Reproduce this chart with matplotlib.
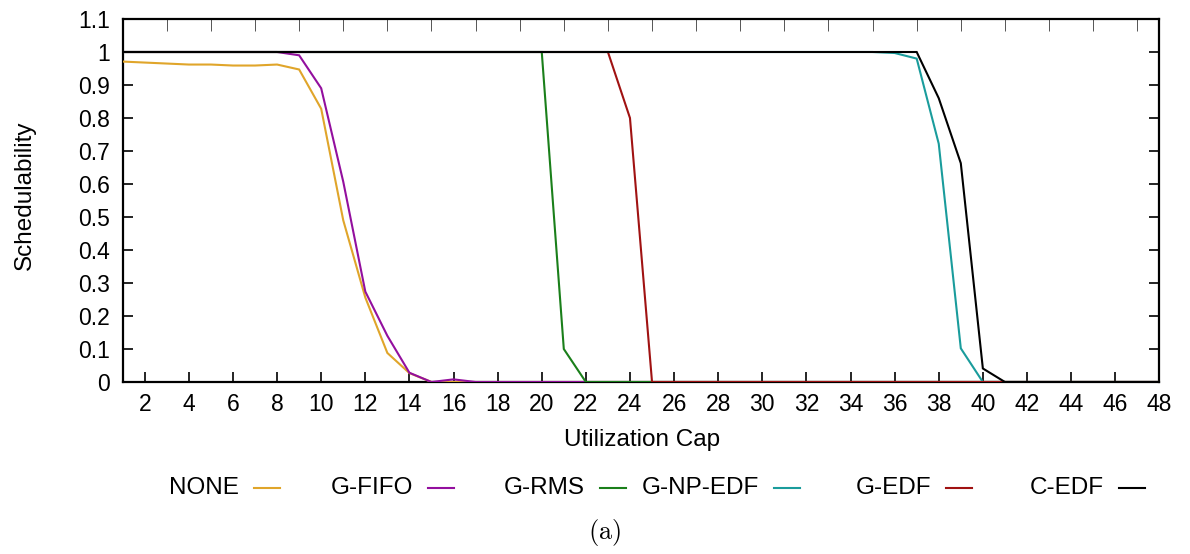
import numpy as np
import matplotlib
matplotlib.use("Agg")
import matplotlib.pyplot as plt
from matplotlib.lines import Line2D

plt.rcParams['font.family'] = ['Liberation Sans', 'DejaVu Sans']
plt.rcParams['mathtext.fontset'] = 'cm'

# Utilization cap values (x axis)
caps = np.arange(1, 49)

# Schedulability per scheduler (values listed from cap 1 upward; remaining caps are 0)
none_vals = [0.971, 0.968, 0.965, 0.962, 0.962, 0.959, 0.959, 0.962, 0.947,
             0.828, 0.49, 0.256, 0.088, 0.027, 0.0]
gfifo_vals = [1, 1, 1, 1, 1, 1, 1, 1, 0.99, 0.89, 0.607, 0.274, 0.14, 0.028,
              0.0, 0.008, 0.0]
grms_vals = [1] * 20 + [0.1, 0.0]
gnpedf_vals = [1] * 35 + [0.997, 0.98, 0.722, 0.102, 0.0]
gedf_vals = [1] * 23 + [0.8, 0.0]
cedf_vals = [1] * 37 + [0.86, 0.663, 0.041, 0.0]

series_names = ["NONE", "G-FIFO", "G-RMS", "G-NP-EDF", "G-EDF", "C-EDF"]
series_vals = [none_vals, gfifo_vals, grms_vals, gnpedf_vals, gedf_vals, cedf_vals]
series_colors = ["#e0a52a", "#930f9e", "#1a7f1a", "#1a9c9c", "#a01212", "#000000"]

x_ticks = list(range(2, 49, 2))
y_ticks = [0, 0.1, 0.2, 0.3, 0.4, 0.5, 0.6, 0.7, 0.8, 0.9, 1, 1.1]
y_tick_labels = ["0", "0.1", "0.2", "0.3", "0.4", "0.5", "0.6", "0.7", "0.8", "0.9", "1", "1.1"]


def pad(vals):
    v = list(vals) + [0.0] * (len(caps) - len(vals))
    return np.array(v)


W, H = 1190, 554
fig = plt.figure(figsize=(W / 100, H / 100), dpi=100)
ax = fig.add_axes([122.7 / W, 1 - 382 / H, (1159.3 - 122.7) / W, (382 - 19) / H])

for name, vals, col in zip(series_names, series_vals, series_colors):
    ax.plot(caps, pad(vals), color=col, lw=1.5, solid_joinstyle='miter', zorder=3)

ax.set_xlim(1, 48)
ax.set_ylim(0, 1.1)
ax.set_xticks(x_ticks)
ax.set_xticklabels([str(t) for t in x_ticks])
ax.set_yticks(y_ticks)
ax.set_yticklabels(y_tick_labels)

ax.tick_params(axis='both', direction='in', length=7.5, width=1.2, labelsize=16.5,
               colors='black')
ax.tick_params(axis='x', pad=8)
ax.tick_params(axis='y', pad=9, right=True)

# small ticks along the top border at every cap value
ax.set_xticks(caps, minor=True)
ax.tick_params(axis='x', which='minor', bottom=False, top=True, direction='in',
               length=8.5, width=0.7, color='#555555')
ax.tick_params(axis='x', which='major', top=False)

for sp in ax.spines.values():
    sp.set_linewidth(1.6)
    sp.set_zorder(2)

# axis titles
fig.text(642 / W, 1 - 440 / H, "Utilization Cap", ha='center', va='center',
         fontsize=17.5)
fig.text(25 / W, 1 - 195 / H, "Schedulability", ha='center', va='center',
         rotation=90, fontsize=17.5)

# legend row below the plot: label text followed by a line sample
leg_y = 1 - 488 / H
sample_right = [280, 454, 626, 800, 972, 1145]
for name, col, xr in zip(series_names, series_colors, sample_right):
    xl = xr - 26
    fig.add_artist(Line2D([xl / W, xr / W], [leg_y, leg_y], color=col, lw=1.5,
                          transform=fig.transFigure))
    fig.text((xl - 15) / W, leg_y, name, ha='right', va='center', fontsize=17.5)

fig.text(605 / W, 1 - 532 / H, r"$\mathrm{(a)}$", ha='center', va='center',
         fontsize=19)

fig.savefig("out.png", dpi=100)
